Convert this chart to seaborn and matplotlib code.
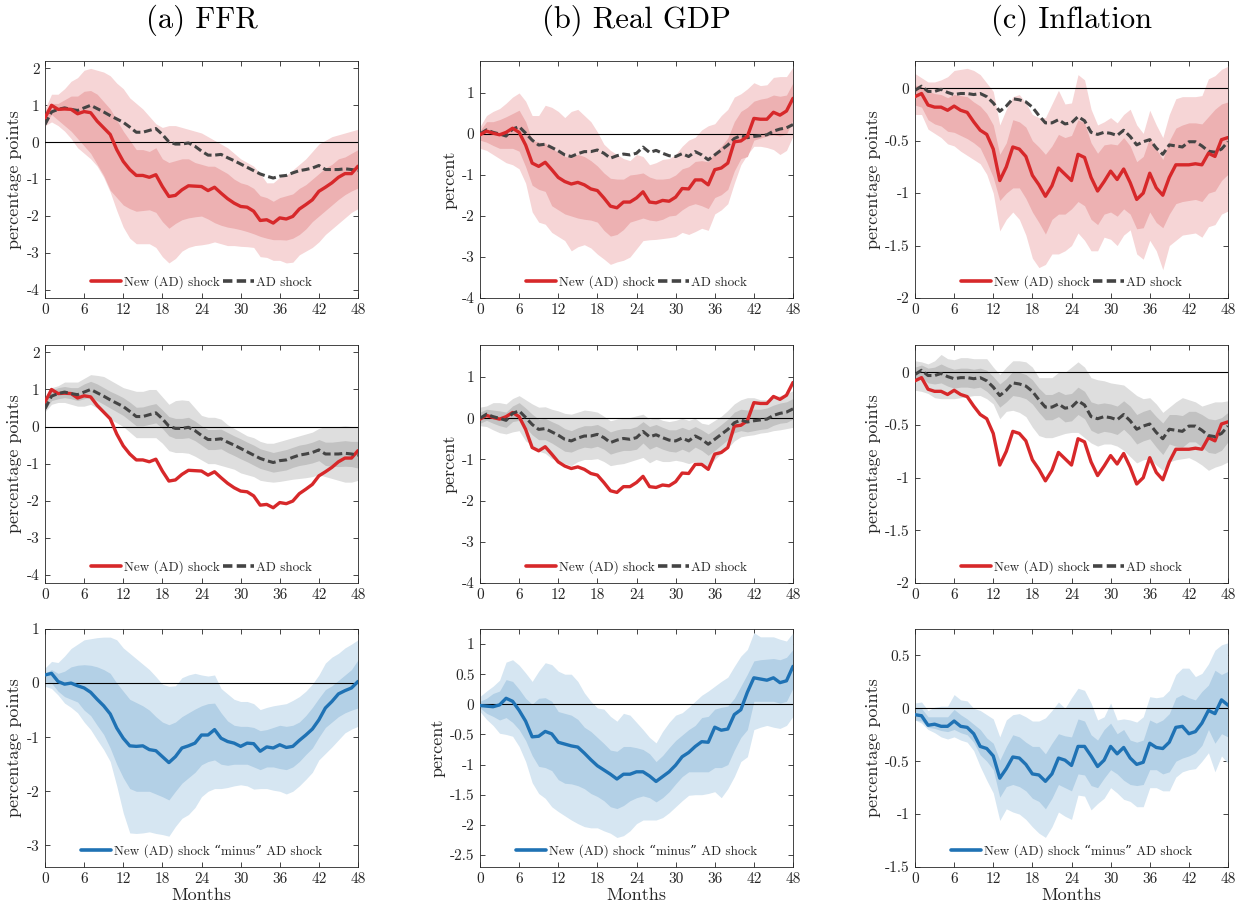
import numpy as np
import pandas as pd
import matplotlib
matplotlib.use("Agg")
import matplotlib.pyplot as plt
import seaborn as sns
from matplotlib.lines import Line2D

# ---------------- data ----------------
months = list(range(49))
x_ticks = [0, 6, 12, 18, 24, 30, 36, 42, 48]
titles = ["(a) FFR", "(b) Real GDP", "(c) Inflation"]
ylabels = ["percentage points", "percent", "percentage points"]
legend_new = "New (AD) shock"
legend_ad = "AD shock"
legend_diff = "New (AD) shock \u201cminus\u201d AD shock"

# (a) FFR
ffr_new = [0.66,1.0,0.89,0.9,0.89,0.77,0.83,0.8,0.57,0.39,0.21,-0.2,-0.52,-0.74,-0.9,-0.9,-0.95,-0.88,-1.2,-1.47,-1.44,-1.29,-1.18,-1.19,-1.2,-1.31,-1.22,-1.38,-1.53,-1.65,-1.74,-1.76,-1.87,-2.12,-2.1,-2.19,-2.05,-2.08,-2.01,-1.81,-1.69,-1.56,-1.33,-1.22,-1.1,-0.95,-0.85,-0.85,-0.65]
ffr_new_hi90 = [0.9,1.3,1.3,1.45,1.65,1.75,1.95,2.0,1.95,1.9,1.8,1.6,1.45,1.2,1.05,0.9,0.7,0.5,0.4,0.45,0.45,0.4,0.35,0.3,0.25,0.15,0.05,-0.05,-0.15,-0.3,-0.45,-0.55,-0.65,-0.85,-1.1,-1.1,-0.95,-0.9,-0.75,-0.6,-0.45,-0.25,-0.05,0.05,0.15,0.2,0.25,0.3,0.35]
ffr_new_lo90 = [0.45,0.55,0.45,0.3,0.1,-0.15,-0.3,-0.45,-0.65,-0.95,-1.35,-1.85,-2.3,-2.6,-2.75,-2.75,-2.75,-2.85,-3.1,-3.27,-3.15,-2.95,-2.85,-2.8,-2.78,-2.75,-2.7,-2.75,-2.8,-2.8,-2.82,-2.83,-2.85,-3.1,-3.12,-3.2,-3.2,-3.27,-3.25,-3.05,-2.95,-2.85,-2.7,-2.5,-2.35,-2.2,-2.05,-1.9,-1.8]
ffr_new_hi68 = [0.85,1.05,1.05,1.15,1.25,1.25,1.38,1.4,1.3,1.1,0.9,0.6,0.3,0.05,-0.2,-0.2,-0.25,-0.15,-0.45,-0.55,-0.5,-0.45,-0.45,-0.55,-0.6,-0.65,-0.65,-0.75,-0.85,-1.0,-1.1,-1.15,-1.25,-1.45,-1.5,-1.6,-1.5,-1.45,-1.4,-1.25,-1.15,-1.0,-0.85,-0.7,-0.6,-0.45,-0.4,-0.3,-0.2]
ffr_new_lo68 = [0.5,0.75,0.6,0.45,0.3,0.1,-0.1,-0.3,-0.6,-0.9,-1.3,-1.5,-1.7,-1.8,-1.87,-1.85,-1.83,-1.9,-2.15,-2.33,-2.2,-2.1,-2.05,-2.02,-2.0,-2.08,-2.18,-2.25,-2.3,-2.33,-2.37,-2.42,-2.48,-2.55,-2.6,-2.64,-2.64,-2.65,-2.6,-2.5,-2.35,-2.15,-2.0,-1.85,-1.7,-1.55,-1.42,-1.32,-1.24]
ffr_ad = [0.48,0.82,0.89,0.93,0.89,0.86,0.93,1.0,0.91,0.82,0.72,0.63,0.54,0.41,0.27,0.27,0.32,0.37,0.21,0.01,-0.05,-0.05,-0.02,-0.11,-0.24,-0.35,-0.35,-0.33,-0.42,-0.5,-0.59,-0.68,-0.77,-0.86,-0.92,-0.97,-0.92,-0.9,-0.83,-0.77,-0.74,-0.7,-0.63,-0.74,-0.74,-0.74,-0.72,-0.74,-0.77]
ffr_ad_hi90 = [0.7,1.05,1.1,1.2,1.2,1.2,1.3,1.4,1.38,1.35,1.25,1.15,1.05,1.0,0.95,0.95,1.0,1.0,0.8,0.6,0.7,0.72,0.7,0.5,0.3,0.25,0.25,0.2,0.05,-0.05,-0.15,-0.25,-0.3,-0.4,-0.45,-0.45,-0.4,-0.35,-0.3,-0.25,-0.2,-0.15,-0.05,0.0,0.0,0.0,0.02,0.0,0.0]
ffr_ad_lo90 = [0.4,0.6,0.65,0.65,0.6,0.55,0.55,0.6,0.5,0.35,0.2,0.1,0.0,-0.15,-0.3,-0.3,-0.3,-0.3,-0.45,-0.65,-0.7,-0.7,-0.72,-0.8,-0.9,-1.0,-1.0,-1.05,-1.1,-1.15,-1.25,-1.3,-1.35,-1.45,-1.48,-1.5,-1.48,-1.45,-1.42,-1.4,-1.38,-1.35,-1.3,-1.35,-1.4,-1.45,-1.5,-1.5,-1.45]
ffr_ad_hi68 = [0.6,0.98,1.05,1.08,1.05,1.05,1.15,1.22,1.15,1.05,0.95,0.87,0.78,0.66,0.52,0.53,0.58,0.62,0.45,0.27,0.22,0.22,0.25,0.15,0.02,-0.08,-0.08,-0.07,-0.16,-0.25,-0.33,-0.42,-0.5,-0.6,-0.65,-0.7,-0.66,-0.62,-0.56,-0.5,-0.47,-0.42,-0.35,-0.42,-0.42,-0.4,-0.38,-0.4,-0.4]
ffr_ad_lo68 = [0.45,0.7,0.75,0.78,0.75,0.7,0.75,0.8,0.7,0.6,0.5,0.4,0.3,0.16,0.02,0.02,0.06,0.1,-0.05,-0.25,-0.32,-0.32,-0.3,-0.38,-0.5,-0.62,-0.62,-0.6,-0.7,-0.78,-0.87,-0.95,-1.04,-1.13,-1.18,-1.23,-1.2,-1.17,-1.1,-1.05,-1.02,-0.98,-0.92,-1.05,-1.07,-1.08,-1.07,-1.08,-1.12]
ffr_diff = [0.15,0.18,0.03,-0.02,0.0,-0.05,-0.09,-0.17,-0.3,-0.42,-0.57,-0.83,-1.02,-1.16,-1.17,-1.16,-1.23,-1.25,-1.36,-1.47,-1.36,-1.2,-1.16,-1.11,-0.96,-0.96,-0.86,-1.02,-1.08,-1.11,-1.17,-1.11,-1.12,-1.26,-1.18,-1.2,-1.14,-1.19,-1.17,-1.06,-0.96,-0.85,-0.68,-0.46,-0.34,-0.2,-0.14,-0.09,0.03]
ffr_diff_hi90 = [0.28,0.4,0.38,0.5,0.64,0.72,0.8,0.82,0.84,0.85,0.85,0.8,0.65,0.55,0.45,0.35,0.25,0.12,-0.02,-0.06,-0.05,0.1,0.15,0.18,0.15,0.13,0.15,-0.1,-0.2,-0.3,-0.34,-0.34,-0.38,-0.49,-0.45,-0.42,-0.4,-0.38,-0.32,-0.25,-0.15,-0.02,0.15,0.37,0.48,0.55,0.65,0.72,0.8]
ffr_diff_lo90 = [-0.06,-0.1,-0.22,-0.37,-0.45,-0.55,-0.72,-0.86,-1.05,-1.23,-1.45,-1.9,-2.4,-2.77,-2.78,-2.77,-2.75,-2.78,-2.8,-2.83,-2.65,-2.5,-2.43,-2.3,-2.1,-2.0,-1.95,-1.95,-1.93,-1.9,-1.88,-1.9,-1.96,-1.95,-1.95,-1.98,-2.0,-2.05,-2.0,-1.9,-1.78,-1.65,-1.42,-1.3,-1.18,-1.05,-0.92,-0.85,-0.8]
ffr_diff_hi68 = [0.18,0.25,0.18,0.22,0.3,0.33,0.34,0.33,0.3,0.25,0.18,0.0,-0.15,-0.3,-0.36,-0.42,-0.5,-0.62,-0.72,-0.77,-0.72,-0.62,-0.55,-0.48,-0.42,-0.38,-0.37,-0.55,-0.7,-0.78,-0.8,-0.8,-0.82,-0.88,-0.86,-0.82,-0.78,-0.8,-0.78,-0.72,-0.6,-0.45,-0.28,-0.12,-0.05,0.05,0.15,0.25,0.43]
ffr_diff_lo68 = [0.03,0.0,-0.15,-0.25,-0.3,-0.35,-0.5,-0.6,-0.78,-0.95,-1.2,-1.5,-1.75,-1.95,-2.0,-2.0,-2.0,-2.05,-2.1,-2.16,-2.0,-1.85,-1.75,-1.65,-1.51,-1.45,-1.42,-1.5,-1.52,-1.5,-1.5,-1.5,-1.55,-1.6,-1.55,-1.55,-1.58,-1.6,-1.55,-1.45,-1.32,-1.2,-1.0,-0.82,-0.72,-0.62,-0.55,-0.5,-0.46]

# (b) Real GDP
gdp_new = [-0.02,0.07,0.02,-0.02,0.04,0.14,0.04,-0.27,-0.71,-0.79,-0.69,-0.87,-1.06,-1.16,-1.22,-1.18,-1.24,-1.34,-1.38,-1.56,-1.76,-1.8,-1.66,-1.66,-1.56,-1.41,-1.66,-1.68,-1.62,-1.64,-1.54,-1.33,-1.34,-1.12,-1.12,-1.24,-0.87,-0.83,-0.71,-0.19,-0.17,-0.06,0.38,0.36,0.36,0.53,0.46,0.56,0.87]
gdp_new_hi90 = [0.18,0.45,0.55,0.62,0.75,0.9,1.0,0.8,0.45,0.45,0.7,0.65,0.55,0.4,0.55,0.6,0.45,0.3,0.05,-0.25,-0.4,-0.5,-0.6,-0.65,-0.5,-0.55,-0.75,-0.7,-0.62,-0.6,-0.5,-0.3,-0.15,-0.08,0.1,0.2,0.25,0.45,0.6,0.9,0.98,1.1,1.25,1.18,1.2,1.38,1.4,1.4,1.63]
gdp_new_lo90 = [-0.35,-0.4,-0.5,-0.6,-0.7,-0.75,-0.85,-1.2,-1.9,-2.15,-2.2,-2.4,-2.5,-2.6,-2.85,-2.75,-2.7,-2.78,-2.93,-3.05,-3.18,-3.12,-3.08,-3.0,-2.8,-2.6,-2.58,-2.57,-2.55,-2.53,-2.5,-2.4,-2.45,-2.38,-2.3,-2.35,-1.95,-1.85,-1.7,-1.2,-0.75,-0.5,-0.3,-0.3,-0.33,-0.38,-0.5,-0.4,-0.05]
gdp_new_hi68 = [0.08,0.3,0.3,0.35,0.42,0.5,0.58,0.3,-0.15,-0.2,-0.22,-0.35,-0.45,-0.55,-0.58,-0.5,-0.55,-0.65,-0.78,-0.95,-1.08,-1.1,-1.1,-1.0,-0.98,-0.95,-1.05,-1.1,-1.1,-1.08,-1.0,-0.85,-0.8,-0.67,-0.65,-0.68,-0.45,-0.3,-0.1,0.3,0.55,0.65,0.8,0.85,0.88,0.95,0.92,0.95,1.25]
gdp_new_lo68 = [-0.15,-0.2,-0.28,-0.35,-0.35,-0.35,-0.42,-0.8,-1.25,-1.35,-1.4,-1.75,-1.85,-1.95,-2.0,-2.05,-2.08,-2.1,-2.15,-2.35,-2.49,-2.45,-2.33,-2.15,-2.1,-2.05,-2.1,-2.12,-2.08,-2.0,-1.98,-1.85,-1.75,-1.7,-1.75,-1.82,-1.55,-1.48,-1.35,-0.9,-0.6,-0.55,-0.15,-0.1,-0.05,-0.02,-0.05,0.0,0.34]
gdp_ad = [0.0,0.1,0.04,0.0,-0.05,0.12,0.18,0.02,-0.15,-0.27,-0.25,-0.33,-0.41,-0.51,-0.55,-0.48,-0.43,-0.43,-0.39,-0.47,-0.59,-0.53,-0.49,-0.51,-0.47,-0.32,-0.45,-0.4,-0.47,-0.53,-0.55,-0.48,-0.55,-0.43,-0.51,-0.63,-0.51,-0.39,-0.27,-0.11,-0.04,-0.09,-0.06,-0.04,-0.02,0.07,0.12,0.15,0.23]
gdp_ad_hi90 = [0.27,0.3,0.38,0.38,0.35,0.48,0.55,0.45,0.35,0.27,0.28,0.22,0.18,0.12,0.1,0.15,0.2,0.18,0.15,0.05,-0.06,-0.02,0.0,0.02,0.06,0.1,-0.02,0.02,-0.05,-0.08,-0.05,0.0,-0.05,0.0,-0.12,-0.15,-0.05,0.05,0.19,0.35,0.45,0.5,0.5,0.45,0.45,0.5,0.55,0.6,0.67]
gdp_ad_lo90 = [-0.18,-0.2,-0.28,-0.35,-0.38,-0.33,-0.3,-0.55,-0.65,-0.8,-0.85,-0.98,-1.03,-1.1,-1.15,-1.05,-1.0,-1.0,-0.98,-1.05,-1.15,-1.12,-1.1,-1.05,-1.0,-0.95,-1.08,-1.0,-1.05,-1.05,-1.02,-1.05,-1.1,-1.05,-1.12,-1.19,-1.0,-0.85,-0.72,-0.55,-0.45,-0.42,-0.4,-0.36,-0.34,-0.3,-0.28,-0.25,-0.22]
gdp_ad_hi68 = [0.15,0.22,0.2,0.18,0.15,0.3,0.38,0.25,0.1,-0.02,0.0,-0.08,-0.15,-0.25,-0.3,-0.23,-0.18,-0.18,-0.15,-0.23,-0.33,-0.28,-0.25,-0.25,-0.2,-0.08,-0.2,-0.15,-0.22,-0.28,-0.28,-0.22,-0.28,-0.2,-0.28,-0.38,-0.27,-0.15,-0.02,0.15,0.22,0.2,0.22,0.22,0.25,0.32,0.37,0.4,0.48]
gdp_ad_lo68 = [-0.12,-0.05,-0.12,-0.18,-0.22,-0.08,-0.05,-0.22,-0.4,-0.52,-0.52,-0.6,-0.7,-0.8,-0.82,-0.75,-0.7,-0.72,-0.68,-0.75,-0.87,-0.82,-0.78,-0.78,-0.75,-0.6,-0.75,-0.68,-0.75,-0.8,-0.82,-0.75,-0.82,-0.7,-0.78,-0.9,-0.78,-0.65,-0.52,-0.35,-0.3,-0.33,-0.3,-0.27,-0.25,-0.17,-0.12,-0.1,-0.02]
gdp_diff = [-0.02,-0.03,-0.04,-0.01,0.1,0.05,-0.1,-0.28,-0.54,-0.53,-0.45,-0.49,-0.63,-0.66,-0.69,-0.71,-0.81,-0.92,-1.02,-1.09,-1.16,-1.24,-1.16,-1.16,-1.12,-1.12,-1.19,-1.28,-1.2,-1.12,-1.01,-0.87,-0.8,-0.7,-0.62,-0.63,-0.38,-0.43,-0.41,-0.17,-0.09,0.2,0.44,0.42,0.4,0.44,0.36,0.39,0.63]
gdp_diff_hi90 = [0.13,0.22,0.3,0.4,0.7,0.74,0.65,0.52,0.38,0.55,0.69,0.66,0.55,0.5,0.5,0.38,0.19,0.05,-0.06,-0.08,-0.2,-0.28,-0.15,-0.18,-0.3,-0.42,-0.55,-0.64,-0.45,-0.3,-0.18,-0.14,-0.05,0.05,0.15,0.22,0.3,0.38,0.45,0.63,0.8,0.91,1.19,1.12,1.12,1.12,1.08,1.05,1.19]
gdp_diff_lo90 = [-0.12,-0.25,-0.35,-0.48,-0.5,-0.53,-0.7,-0.95,-1.3,-1.48,-1.56,-1.7,-1.78,-1.85,-1.92,-1.98,-2.03,-2.05,-2.05,-2.1,-2.14,-2.21,-2.18,-2.1,-1.98,-1.92,-1.92,-1.92,-1.88,-1.8,-1.7,-1.6,-1.51,-1.5,-1.5,-1.48,-1.45,-1.55,-1.4,-1.2,-0.95,-0.87,-0.42,-0.38,-0.35,-0.38,-0.4,-0.35,-0.2]
gdp_diff_hi68 = [0.05,0.1,0.18,0.22,0.41,0.38,0.25,0.1,0.0,0.1,0.11,0.05,-0.12,-0.15,-0.18,-0.25,-0.38,-0.45,-0.55,-0.65,-0.76,-0.78,-0.7,-0.7,-0.72,-0.75,-0.82,-0.95,-0.85,-0.72,-0.6,-0.51,-0.42,-0.35,-0.22,-0.2,-0.08,-0.05,-0.03,0.1,0.3,0.5,0.72,0.74,0.75,0.76,0.74,0.78,0.91]
gdp_diff_lo68 = [-0.06,-0.15,-0.2,-0.26,-0.22,-0.3,-0.42,-0.6,-0.85,-1.03,-1.05,-1.1,-1.25,-1.31,-1.32,-1.35,-1.4,-1.48,-1.53,-1.6,-1.7,-1.73,-1.68,-1.6,-1.55,-1.52,-1.55,-1.62,-1.55,-1.45,-1.32,-1.2,-1.12,-1.12,-1.12,-1.12,-1.05,-1.05,-1.0,-0.76,-0.55,-0.42,0.05,0.05,0.05,0.05,0.02,0.05,0.27]

# (c) Inflation
inf_new = [-0.08,-0.05,-0.16,-0.18,-0.18,-0.21,-0.17,-0.21,-0.23,-0.32,-0.4,-0.44,-0.58,-0.88,-0.75,-0.56,-0.58,-0.65,-0.83,-0.92,-1.03,-0.93,-0.76,-0.82,-0.88,-0.63,-0.66,-0.85,-0.98,-0.89,-0.79,-0.87,-0.77,-0.9,-1.06,-1.0,-0.81,-0.95,-1.02,-0.85,-0.73,-0.73,-0.73,-0.72,-0.73,-0.62,-0.65,-0.49,-0.47]
inf_new_hi90 = [0.14,0.1,0.06,0.06,0.08,0.11,0.17,0.18,0.19,0.17,0.13,0.05,-0.03,-0.35,-0.2,-0.08,-0.06,-0.14,-0.25,-0.28,-0.28,-0.15,-0.02,-0.15,-0.14,0.13,0.08,-0.2,-0.35,-0.32,-0.28,-0.33,-0.25,-0.2,-0.35,-0.43,-0.21,-0.35,-0.47,-0.25,-0.1,-0.08,-0.08,-0.08,-0.07,0.09,0.12,0.18,0.21]
inf_new_lo90 = [-0.25,-0.25,-0.39,-0.43,-0.47,-0.53,-0.55,-0.6,-0.64,-0.68,-0.72,-0.82,-1.0,-1.36,-1.25,-1.18,-1.25,-1.4,-1.62,-1.71,-1.68,-1.58,-1.58,-1.55,-1.5,-1.38,-1.45,-1.55,-1.55,-1.42,-1.44,-1.5,-1.4,-1.35,-1.58,-1.63,-1.45,-1.55,-1.73,-1.5,-1.45,-1.4,-1.39,-1.38,-1.42,-1.32,-1.3,-1.2,-1.17]
inf_new_hi68 = [0.03,0.02,-0.03,-0.05,-0.06,-0.09,-0.06,-0.07,-0.08,-0.13,-0.17,-0.24,-0.35,-0.63,-0.52,-0.3,-0.32,-0.37,-0.5,-0.56,-0.63,-0.55,-0.44,-0.47,-0.45,-0.3,-0.33,-0.52,-0.62,-0.54,-0.53,-0.54,-0.47,-0.55,-0.7,-0.65,-0.47,-0.58,-0.68,-0.5,-0.38,-0.35,-0.33,-0.33,-0.34,-0.27,-0.2,-0.15,-0.13]
inf_new_lo68 = [-0.16,-0.18,-0.3,-0.34,-0.36,-0.41,-0.42,-0.45,-0.48,-0.52,-0.57,-0.7,-0.85,-1.07,-1.0,-0.95,-0.95,-1.05,-1.18,-1.28,-1.39,-1.25,-1.2,-1.2,-1.15,-1.08,-1.12,-1.25,-1.3,-1.2,-1.18,-1.22,-1.15,-1.2,-1.34,-1.33,-1.18,-1.28,-1.33,-1.2,-1.1,-1.08,-1.07,-1.06,-1.08,-1.0,-0.98,-0.88,-0.82]
inf_ad = [-0.02,0.02,-0.03,-0.03,-0.01,-0.04,-0.06,-0.05,-0.05,-0.06,-0.05,-0.08,-0.14,-0.22,-0.17,-0.1,-0.11,-0.13,-0.18,-0.26,-0.33,-0.33,-0.3,-0.34,-0.33,-0.27,-0.31,-0.42,-0.44,-0.42,-0.43,-0.45,-0.4,-0.46,-0.54,-0.51,-0.49,-0.57,-0.63,-0.54,-0.55,-0.56,-0.51,-0.51,-0.55,-0.6,-0.61,-0.58,-0.51]
inf_ad_hi90 = [0.11,0.1,0.08,0.11,0.17,0.13,0.12,0.14,0.14,0.13,0.13,0.13,0.05,-0.02,0.05,0.11,0.11,0.1,0.05,-0.05,-0.05,-0.05,0.0,0.0,0.05,0.1,0.05,-0.05,-0.07,-0.08,-0.1,-0.11,-0.12,-0.17,-0.22,-0.25,-0.24,-0.3,-0.38,-0.33,-0.28,-0.24,-0.26,-0.28,-0.32,-0.3,-0.28,-0.28,-0.27]
inf_ad_lo90 = [-0.17,-0.18,-0.2,-0.24,-0.25,-0.25,-0.25,-0.24,-0.23,-0.22,-0.22,-0.25,-0.3,-0.44,-0.37,-0.36,-0.38,-0.42,-0.52,-0.6,-0.62,-0.62,-0.6,-0.58,-0.57,-0.57,-0.62,-0.67,-0.7,-0.68,-0.68,-0.7,-0.74,-0.8,-0.86,-0.83,-0.82,-0.88,-0.93,-0.85,-0.83,-0.82,-0.81,-0.84,-0.88,-0.93,-0.9,-0.88,-0.85]
inf_ad_hi68 = [0.05,0.07,0.04,0.05,0.08,0.05,0.03,0.04,0.04,0.03,0.04,0.02,-0.04,-0.11,-0.06,0.01,0.0,-0.02,-0.07,-0.15,-0.21,-0.21,-0.18,-0.21,-0.2,-0.14,-0.18,-0.28,-0.3,-0.29,-0.3,-0.32,-0.27,-0.32,-0.4,-0.37,-0.35,-0.42,-0.48,-0.4,-0.4,-0.41,-0.37,-0.37,-0.4,-0.44,-0.45,-0.43,-0.38]
inf_ad_lo68 = [-0.09,-0.05,-0.1,-0.11,-0.1,-0.13,-0.15,-0.14,-0.14,-0.15,-0.14,-0.18,-0.24,-0.33,-0.28,-0.22,-0.23,-0.25,-0.3,-0.38,-0.45,-0.45,-0.42,-0.47,-0.46,-0.4,-0.44,-0.55,-0.58,-0.56,-0.57,-0.59,-0.54,-0.6,-0.68,-0.65,-0.63,-0.71,-0.78,-0.68,-0.7,-0.71,-0.66,-0.66,-0.71,-0.76,-0.77,-0.74,-0.66]
inf_diff = [-0.06,-0.07,-0.16,-0.15,-0.17,-0.17,-0.12,-0.17,-0.18,-0.24,-0.36,-0.38,-0.45,-0.66,-0.57,-0.46,-0.47,-0.53,-0.62,-0.63,-0.69,-0.62,-0.47,-0.49,-0.54,-0.36,-0.36,-0.45,-0.55,-0.49,-0.36,-0.43,-0.37,-0.47,-0.53,-0.51,-0.33,-0.37,-0.38,-0.32,-0.18,-0.17,-0.24,-0.22,-0.14,-0.02,-0.05,0.08,0.03]
inf_diff_hi90 = [0.05,0.06,-0.02,0.01,0.02,0.02,0.13,0.08,0.07,0.0,-0.02,-0.06,-0.1,-0.27,-0.11,-0.06,-0.05,-0.08,-0.12,-0.12,-0.09,-0.02,0.06,0.0,0.1,0.19,0.17,0.05,-0.11,-0.08,0.05,-0.11,-0.1,-0.11,-0.13,-0.08,0.11,0.1,0.11,0.17,0.32,0.38,0.38,0.3,0.33,0.42,0.55,0.6,0.62]
inf_diff_lo90 = [-0.11,-0.14,-0.2,-0.23,-0.27,-0.29,-0.27,-0.3,-0.32,-0.4,-0.55,-0.68,-0.8,-1.06,-0.95,-0.98,-1.0,-1.05,-1.12,-1.18,-1.22,-1.12,-0.98,-1.02,-1.05,-0.82,-0.83,-0.96,-0.9,-0.85,-0.75,-0.8,-0.86,-0.88,-0.93,-0.93,-0.75,-0.75,-0.78,-0.78,-0.65,-0.6,-0.58,-0.57,-0.5,-0.42,-0.6,-0.45,-0.52]
inf_diff_hi68 = [0.0,0.0,-0.08,-0.08,-0.08,-0.08,-0.01,-0.06,-0.1,-0.15,-0.2,-0.28,-0.33,-0.49,-0.36,-0.25,-0.27,-0.32,-0.36,-0.36,-0.43,-0.33,-0.24,-0.26,-0.27,-0.1,-0.12,-0.25,-0.3,-0.2,-0.14,-0.24,-0.2,-0.3,-0.32,-0.3,-0.11,-0.14,-0.11,-0.05,0.1,0.13,0.1,0.08,0.16,0.22,0.36,0.32,0.35]
inf_diff_lo68 = [-0.11,-0.12,-0.18,-0.19,-0.21,-0.22,-0.2,-0.23,-0.25,-0.32,-0.44,-0.5,-0.58,-0.84,-0.74,-0.72,-0.74,-0.78,-0.85,-0.88,-0.95,-0.85,-0.72,-0.75,-0.78,-0.62,-0.63,-0.73,-0.75,-0.66,-0.58,-0.62,-0.68,-0.72,-0.73,-0.72,-0.58,-0.58,-0.62,-0.6,-0.5,-0.47,-0.45,-0.42,-0.35,-0.2,-0.33,-0.24,-0.27]

# axis settings per column
ylim_top = [(-4.22, 2.2), (-4.0, 1.78), (-2.0, 0.26)]
yticks_top = [[-4, -3, -2, -1, 0, 1, 2], [-4, -3, -2, -1, 0, 1], [-2, -1.5, -1, -0.5, 0]]
ylim_bot = [(-3.4, 1.0), (-2.7, 1.25), (-1.5, 0.75)]
yticks_bot = [[-3, -2, -1, 0, 1], [-2.5, -2, -1.5, -1, -0.5, 0, 0.5, 1], [-1.5, -1, -0.5, 0, 0.5]]

# ---------------- style ----------------
sns.set_style("ticks")
plt.rcParams['font.family'] = ['cmr10', 'DejaVu Serif']
plt.rcParams['axes.unicode_minus'] = False
plt.rcParams['mathtext.fontset'] = 'cm'
plt.rcParams['axes.formatter.use_mathtext'] = True

RED = "#d7282a"
RED_90 = "#f6d5d6"
RED_68 = "#edb1b2"
GRAY = "#444444"
GRAY_90 = "#dedede"
GRAY_68 = "#c2c2c2"
BLUE = "#1f72b4"
BLUE_90 = "#d6e6f2"
BLUE_68 = "#b3d0e6"
DASH = (0, (2.6, 1.2))

cols = [
    dict(new=ffr_new, nhi90=ffr_new_hi90, nlo90=ffr_new_lo90, nhi68=ffr_new_hi68, nlo68=ffr_new_lo68,
         ad=ffr_ad, ahi90=ffr_ad_hi90, alo90=ffr_ad_lo90, ahi68=ffr_ad_hi68, alo68=ffr_ad_lo68,
         d=ffr_diff, dhi90=ffr_diff_hi90, dlo90=ffr_diff_lo90, dhi68=ffr_diff_hi68, dlo68=ffr_diff_lo68),
    dict(new=gdp_new, nhi90=gdp_new_hi90, nlo90=gdp_new_lo90, nhi68=gdp_new_hi68, nlo68=gdp_new_lo68,
         ad=gdp_ad, ahi90=gdp_ad_hi90, alo90=gdp_ad_lo90, ahi68=gdp_ad_hi68, alo68=gdp_ad_lo68,
         d=gdp_diff, dhi90=gdp_diff_hi90, dlo90=gdp_diff_lo90, dhi68=gdp_diff_hi68, dlo68=gdp_diff_lo68),
    dict(new=inf_new, nhi90=inf_new_hi90, nlo90=inf_new_lo90, nhi68=inf_new_hi68, nlo68=inf_new_lo68,
         ad=inf_ad, ahi90=inf_ad_hi90, alo90=inf_ad_lo90, ahi68=inf_ad_hi68, alo68=inf_ad_lo68,
         d=inf_diff, dhi90=inf_diff_hi90, dlo90=inf_diff_lo90, dhi68=inf_diff_hi68, dlo68=inf_diff_lo68),
]

fig = plt.figure(figsize=(12.48, 9.11), dpi=100)
W, H = 1248.0, 911.0
col_left = [45, 480, 915]
col_w = 313
row_px = [(61, 298), (345, 583), (629, 867)]


def fmt(v):
    return f"{v:g}"


def style_axes(ax, ylim, yticks):
    ax.set_xlim(0, 48)
    ax.set_ylim(*ylim)
    ax.set_xticks(x_ticks)
    ax.set_xticklabels([str(t) for t in x_ticks])
    ax.set_yticks(yticks)
    ax.set_yticklabels([fmt(t) for t in yticks])
    ax.tick_params(direction='in', length=3.5, width=0.6, top=True, right=True,
                   labelsize=11, colors="#262626", pad=4)
    for sp in ax.spines.values():
        sp.set_visible(True)
        sp.set_linewidth(0.6)
        sp.set_color("#262626")
    ax.axhline(0, color="black", lw=0.8, zorder=3)


for c in range(3):
    d = cols[c]
    df = pd.DataFrame({"month": months, "new": d["new"], "ad": d["ad"], "diff": d["d"]})
    axes = []
    for r in range(3):
        top, bot = row_px[r]
        ax = fig.add_axes([col_left[c] / W, 1 - bot / H, col_w / W, (bot - top) / H])
        axes.append(ax)

    # row 1: new shock with red bands + AD line
    ax = axes[0]
    ax.fill_between(months, d["nlo90"], d["nhi90"], color=RED_90, lw=0, zorder=1)
    ax.fill_between(months, d["nlo68"], d["nhi68"], color=RED_68, lw=0, zorder=2)
    sns.lineplot(data=df, x="month", y="ad", ax=ax, color=GRAY, lw=2.2, zorder=4)
    ax.lines[-1].set_linestyle(DASH)
    sns.lineplot(data=df, x="month", y="new", ax=ax, color=RED, lw=2.4, zorder=5)
    style_axes(ax, ylim_top[c], yticks_top[c])
    ax.set_xlabel("")

    # row 2: AD shock with gray bands + new line
    ax = axes[1]
    ax.fill_between(months, d["alo90"], d["ahi90"], color=GRAY_90, lw=0, zorder=1)
    ax.fill_between(months, d["alo68"], d["ahi68"], color=GRAY_68, lw=0, zorder=2)
    sns.lineplot(data=df, x="month", y="new", ax=ax, color=RED, lw=2.4, zorder=4)
    sns.lineplot(data=df, x="month", y="ad", ax=ax, color=GRAY, lw=2.2, zorder=5)
    ax.lines[-1].set_linestyle(DASH)
    style_axes(ax, ylim_top[c], yticks_top[c])
    ax.set_xlabel("")

    # row 3: difference with blue bands
    ax = axes[2]
    ax.fill_between(months, d["dlo90"], d["dhi90"], color=BLUE_90, lw=0, zorder=1)
    ax.fill_between(months, d["dlo68"], d["dhi68"], color=BLUE_68, lw=0, zorder=2)
    sns.lineplot(data=df, x="month", y="diff", ax=ax, color=BLUE, lw=2.4, zorder=5)
    style_axes(ax, ylim_bot[c], yticks_bot[c])
    ax.set_xlabel("Months", fontsize=13, labelpad=1)

    for r in range(3):
        axes[r].set_ylabel(ylabels[c], fontsize=13, labelpad=3)

    # legends
    h_new = Line2D([], [], color=RED, lw=2.6)
    h_ad = Line2D([], [], color=GRAY, lw=2.6, linestyle=DASH)
    for r in range(2):
        axes[r].legend([h_new, h_ad], [legend_new, legend_ad], loc="lower center",
                       ncol=2, frameon=False, fontsize=9.5, handlelength=2.3,
                       handletextpad=0.2, columnspacing=0.3, borderaxespad=0.25)
    h_d = Line2D([], [], color=BLUE, lw=2.6)
    axes[2].legend([h_d], [legend_diff], loc="lower center", frameon=False, fontsize=9.5,
                   handlelength=2.3, handletextpad=0.2, borderaxespad=0.25)

    fig.text((col_left[c] + col_w / 2) / W, 1 - 20 / H, titles[c], ha="center", va="center",
             fontsize=22, color="black")

fig.savefig("out.png", dpi=100)
